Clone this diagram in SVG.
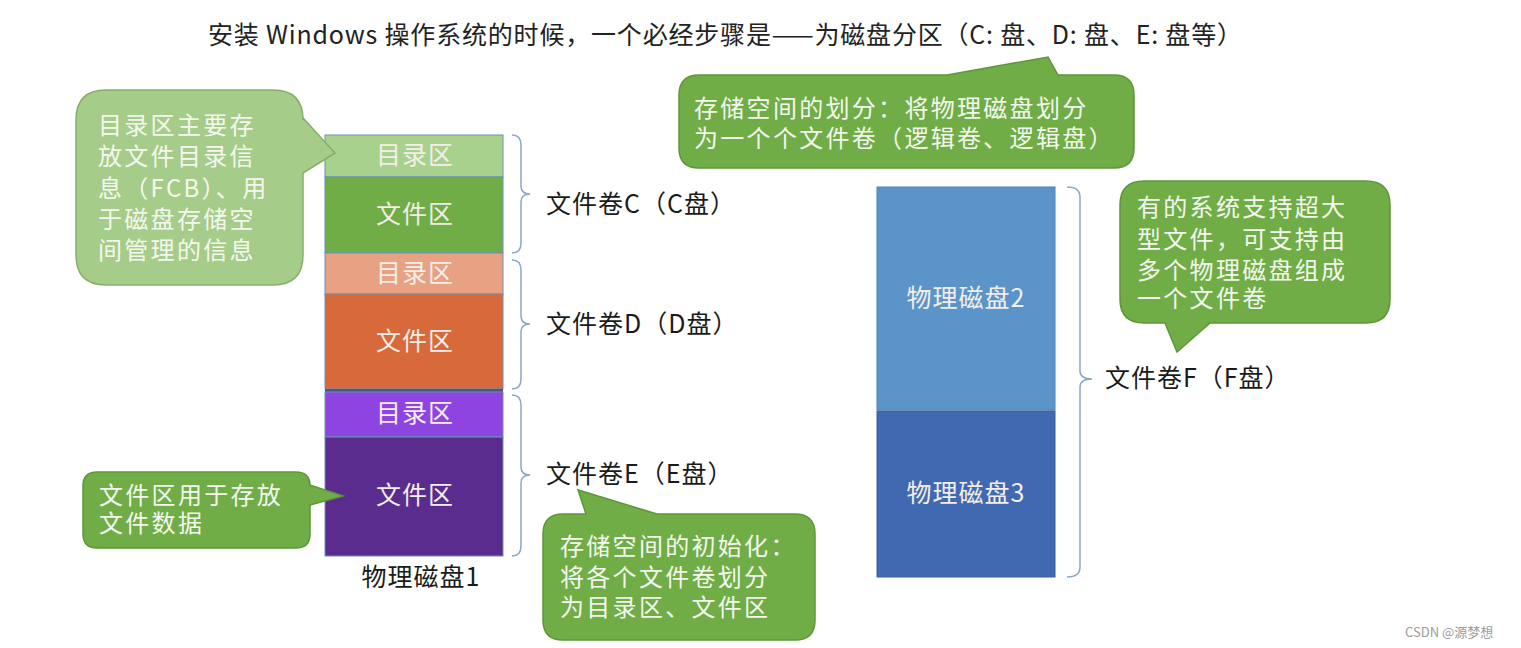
<svg xmlns="http://www.w3.org/2000/svg" width="1521" height="648" viewBox="0 0 1521 648">
<style>
text{font-family:"Noto Sans CJK SC","Noto Sans",sans-serif;}
.t{font-size:25px;fill:#222;}
.lbl{font-size:25px;fill:#1a1a1a;letter-spacing:1px;}
.in{font-size:25px;fill:#F3EEE8;text-anchor:middle;letter-spacing:1px;}
.co{font-size:24px;fill:#F4F8EE;letter-spacing:2.3px;}
.seg{stroke:#6F8FB5;stroke-width:1;}
.brace{fill:none;stroke:#8AA6C8;stroke-width:1.5;}
.cg{fill:#70AD47;stroke:#5E9638;stroke-width:1.5;}
.clg{fill:#A6CC8A;stroke:#86AE68;stroke-width:1.5;}
</style>
<rect width="1521" height="648" fill="#ffffff"/>
<g id="title">
<text class="t" x="208" y="44" textLength="1034" lengthAdjust="spacing">安装 Windows 操作系统的时候，一个必经步骤是——为磁盘分区（C: 盘、D: 盘、E: 盘等）</text>
</g>
<g id="disk1">
<rect class="seg" x="325" y="135" width="178" height="42" fill="#A9D18E"/>
<text class="in" x="415" y="164">目录区</text>
<rect class="seg" x="325" y="177" width="178" height="76" fill="#70AD47"/>
<text class="in" x="415" y="223">文件区</text>
<rect class="seg" x="325" y="253" width="178" height="41" fill="#E6A283"/>
<text class="in" x="415" y="282">目录区</text>
<rect class="seg" x="325" y="294" width="178" height="95" fill="#D8693B"/>
<text class="in" x="415" y="350">文件区</text>
<rect x="325" y="389" width="178" height="3" fill="#3F5D8A"/>
<rect class="seg" x="325" y="392" width="178" height="45" fill="#8E44E0"/>
<text class="in" x="415" y="422">目录区</text>
<rect class="seg" x="325" y="437" width="178" height="119" fill="#5A2C8E"/>
<text class="in" x="415" y="504">文件区</text>
<text class="lbl" x="421" y="586" text-anchor="middle" font-size="26">物理磁盘1</text>
</g>
<g id="disk23">
<rect x="877" y="187" width="178" height="223" fill="#5B94C8" stroke="#4F82B8"/>
<text class="in" x="966" y="307">物理磁盘2</text>
<rect x="877" y="411" width="178" height="166" fill="#4169B1" stroke="#3A5E9E"/>
<text class="in" x="966" y="502">物理磁盘3</text>
</g>
<g id="connectors">
<path class="brace" d="M512 135 Q521 135 521 145 L521 186 Q521 194 530 194 Q521 194 521 202 L521 243 Q521 253 512 253"/>
<path class="brace" d="M512 260 Q521 260 521 270 L521 316 Q521 324 530 324 Q521 324 521 332 L521 379 Q521 389 512 389"/>
<path class="brace" d="M512 395 Q521 395 521 405 L521 467 Q521 475 530 475 Q521 475 521 483 L521 546 Q521 556 512 556"/>
<path class="brace" d="M1067 187 Q1080 187 1080 197 L1080 371 Q1080 379 1092 379 Q1080 379 1080 387 L1080 567 Q1080 577 1067 577"/>
</g>
<g id="volC"><text class="lbl" x="546" y="213">文件卷C（C盘）</text></g>
<g id="volD"><text class="lbl" x="546" y="333">文件卷D（D盘）</text></g>
<g id="volE"><text class="lbl" x="546" y="483">文件卷E（E盘）</text></g>
<g id="volF"><text class="lbl" x="1105" y="387">文件卷F（F盘）</text></g>
<g id="callout-dir">
<path class="clg" d="M106 90 L273 90 Q303 90 303 120 L303 118 L335 153 L303 173 L303 255 Q303 285 273 285 L106 285 Q76 285 76 255 L76 120 Q76 90 106 90 Z"/>
<text class="co" x="98" y="134">目录区主要存</text>
<text class="co" x="98" y="165">放文件目录信</text>
<text class="co" x="98" y="197">息（FCB）、用</text>
<text class="co" x="98" y="228">于磁盘存储空</text>
<text class="co" x="98" y="259">间管理的信息</text>
</g>
<g id="callout-file">
<path class="cg" d="M97 472 L296 472 Q310 472 310 486 L310 485 L343 496 L310 505 L310 534 Q310 548 296 548 L97 548 Q83 548 83 534 L83 486 Q83 472 97 472 Z"/>
<text class="co" x="99" y="504">文件区用于存放</text>
<text class="co" x="99" y="532">文件数据</text>
</g>
<g id="callout-init">
<path class="cg" d="M563 514 L586 514 L578 490 L657 514 L795 514 Q815 514 815 534 L815 620 Q815 640 795 640 L563 640 Q543 640 543 620 L543 534 Q543 514 563 514 Z"/>
<text class="co" x="560" y="555" letter-spacing="1px">存储空间的初始化：</text>
<text class="co" x="560" y="586">将各个文件卷划分</text>
<text class="co" x="560" y="616">为目录区、文件区</text>
</g>
<g id="callout-part">
<path class="cg" d="M699 75 L947 75 L1048 57 L1058 75 L1114 75 Q1134 75 1134 95 L1134 148 Q1134 168 1114 168 L699 168 Q679 168 679 148 L679 95 Q679 75 699 75 Z"/>
<text class="co" x="694" y="117">存储空间的划分：将物理磁盘划分</text>
<text class="co" x="694" y="147" letter-spacing="2px">为一个个文件卷（逻辑卷、逻辑盘）</text>
</g>
<g id="callout-multi">
<path class="cg" d="M1144 181 L1366 181 Q1390 181 1390 205 L1390 299 Q1390 323 1366 323 L1210 323 L1177 352 L1165 323 L1144 323 Q1120 323 1120 299 L1120 205 Q1120 181 1144 181 Z"/>
<text class="co" x="1137" y="216">有的系统支持超大</text>
<text class="co" x="1137" y="248">型文件，可支持由</text>
<text class="co" x="1137" y="279">多个物理磁盘组成</text>
<text class="co" x="1137" y="307">一个文件卷</text>
</g>
<g id="watermark">
<text x="1405" y="637" font-size="13" fill="#9a9a9a">CSDN @源梦想</text>
</g>
</svg>
